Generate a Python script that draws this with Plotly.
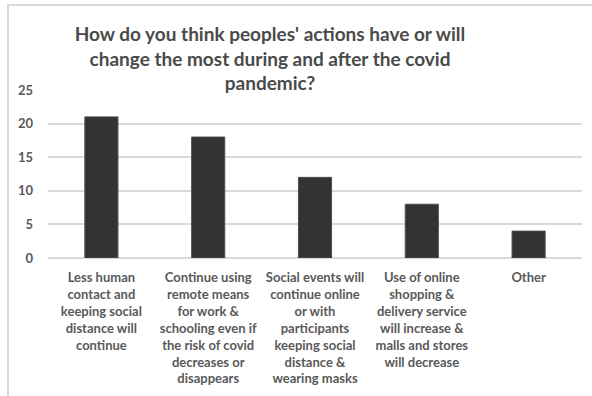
import plotly.graph_objects as go

categories = [
    "Less human<br>contact and<br>keeping social<br>distance will<br>continue",
    "Continue using<br>remote means<br>for work &<br>schooling even if<br>the risk of covid<br>decreases or<br>disappears",
    "Social events will<br>continue online<br>or with<br>participants<br>keeping social<br>distance &<br>wearing masks",
    "Use of online<br>shopping &<br>delivery service<br>will increase &<br>malls and stores<br>will decrease",
    "Other",
]
responses = [21, 18, 12, 8, 4]
y_ticks = [0, 5, 10, 15, 20, 25]

TEXT_FONT = "Lato"
TEXT_COLOR = "#595959"

W, H = 592, 396
L, R, T, B = 48, 10, 90, 138
plot_w = W - L - R
plot_h = H - T - B

fig = go.Figure(
    go.Bar(
        x=categories,
        y=responses,
        width=0.31,
        marker=dict(color="#333333", line=dict(color="#4d4d4d", width=1)),
    )
)

# light frame around the chart area (only the top and left edges fall in view)
fig.add_shape(
    type="rect", xref="paper", yref="paper",
    x0=(8 - L) / plot_w, x1=1.5,
    y0=-1.0, y1=(H - B - 5) / plot_h,
    line=dict(color="#d9d9d9", width=2),
    fillcolor="rgba(0,0,0,0)",
    layer="below",
)

fig.update_layout(
    width=W, height=H,
    margin=dict(l=L, r=R, t=T, b=B, pad=0),
    paper_bgcolor="white",
    plot_bgcolor="white",
    showlegend=False,
    title=dict(
        text="How do you think peoples' actions have or will<br>change the most during and after the covid<br>pandemic?",
        x=270 / W, xanchor="center", xref="container",
        y=1 - 41 / H, yanchor="top", yref="container",
        font=dict(family=TEXT_FONT, size=19, color="#4a4a4a", weight=700),
    ),
    bargap=0.69,
)
fig.update_xaxes(
    showgrid=False, showline=False, ticks="",
    tickfont=dict(family=TEXT_FONT, size=13, color=TEXT_COLOR, weight=700),
    tickangle=0,
    ticklabelstandoff=10,
)
fig.update_yaxes(
    range=[0, 25],
    tickvals=y_ticks,
    showgrid=True, gridcolor="#d9d9d9", gridwidth=1.5,
    zeroline=True, zerolinecolor="#d9d9d9", zerolinewidth=1.5,
    showline=False, ticks="",
    tickfont=dict(family=TEXT_FONT, size=13, color=TEXT_COLOR, weight=700),
    ticklabelstandoff=14,
)

fig.write_html("out.html")
